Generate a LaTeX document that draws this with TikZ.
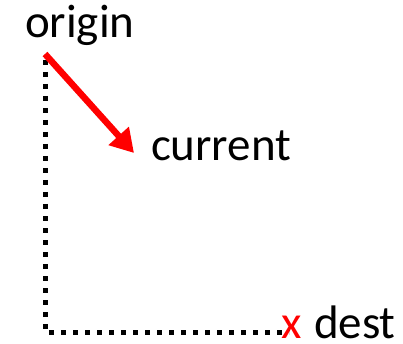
\documentclass[tikz,border=0pt]{standalone}
\usepackage{fontspec}
\setmainfont{Carlito}
\usetikzlibrary{arrows.meta}
\begin{document}
\begin{tikzpicture}[x=1pt,y=-1pt,
  lbl/.style={inner sep=0pt,outer sep=0pt,anchor=base west,font=\fontsize{47}{56}\selectfont},
  dotline/.style={line width=5pt,dash pattern=on 5pt off 7pt,line cap=butt,black},
  redarrow/.style={red,line width=6.5pt,-{Triangle[length=23pt,width=26pt]}}]
\useasboundingbox (0,0) rectangle (403,344);
\node[lbl] (origin) at (25,38) {origin};
\node[lbl] (current) at (151,161) {current};
\node[lbl,text=red,text depth=0pt] (dest) at (281,338) {x};
\node[lbl,text depth=0pt] (destlabel) at (314,338) {dest};
\coordinate (start) at (45,60);
\coordinate (corner) at (45,332);
\coordinate (end) at (289,332);
\coordinate (a0) at (45,54);
\coordinate (a1) at (134,153);
\draw[dotline] (start) -- (corner) -- (end);
\draw[redarrow] (a0) -- (a1);
\end{tikzpicture}
\end{document}
